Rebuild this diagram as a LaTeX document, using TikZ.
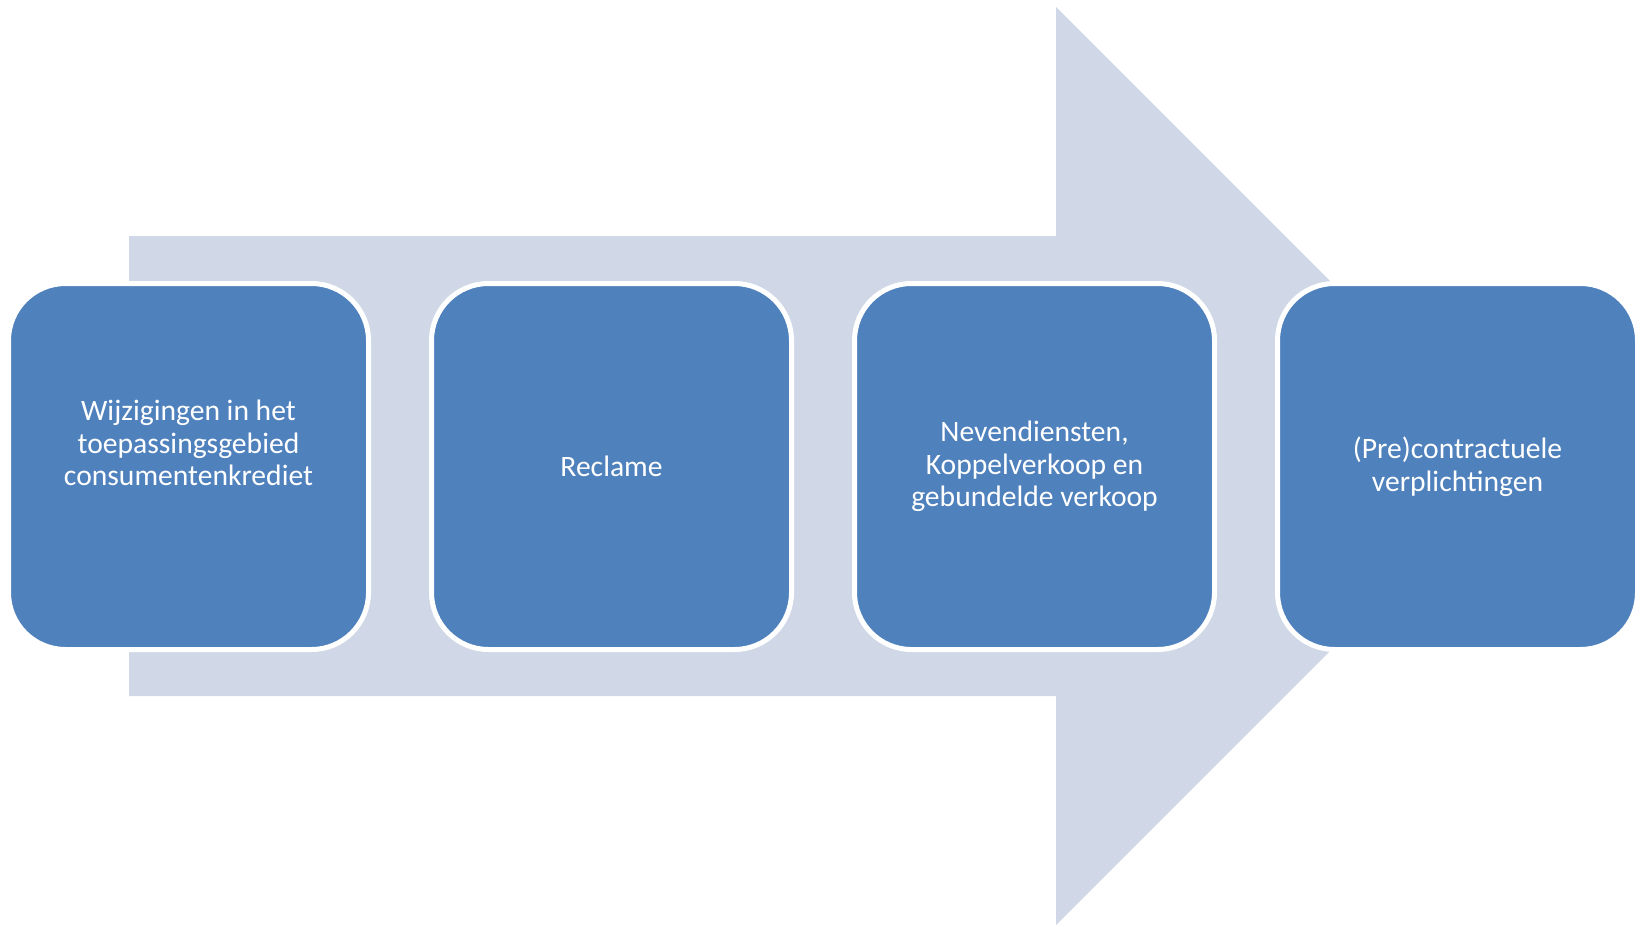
\documentclass[tikz,border=0pt]{standalone}
\usepackage{fontspec}
\setmainfont{Carlito}
\usepackage{tikz}
\usetikzlibrary{positioning}
\definecolor{StepBlue}{RGB}{79, 129, 189}
\definecolor{ArrowGray}{RGB}{208, 216, 232}
\tikzset{
    stepbox/.style={
        rectangle, fill=StepBlue, draw=white, line width=5pt,
        rounded corners=57pt, minimum width=360pt, minimum height=366pt,
        inner sep=0pt, align=center, text=white,
        font=\fontsize{29.6}{32.5}\selectfont
    }
}

\begin{document}
\begin{tikzpicture}[x=1pt, y=-1pt]
    \useasboundingbox (0,0) rectangle (1640,926);
    % big arrow behind the steps
    \fill[ArrowGray] (129,236) -- (1056,236) -- (1056,7) -- (1515,466)
        -- (1056,925) -- (1056,696) -- (129,696) -- cycle;
    \node[stepbox] (wijz) at (188.5,466.5) {Wijzigingen in het\\ toepassingsgebied\\ consumentenkrediet\\[15pt]\mbox{}};
    \node[stepbox, right=58pt of wijz] (recl) {Reclame};
    \node[stepbox, right=58pt of recl] (neven) {Nevendiensten,\\ Koppelverkoop en\\ gebundelde verkoop};
    \node[stepbox, right=58pt of neven] (precon) {(Pre)contractuele\\ verplichtingen};
\end{tikzpicture}
\end{document}
